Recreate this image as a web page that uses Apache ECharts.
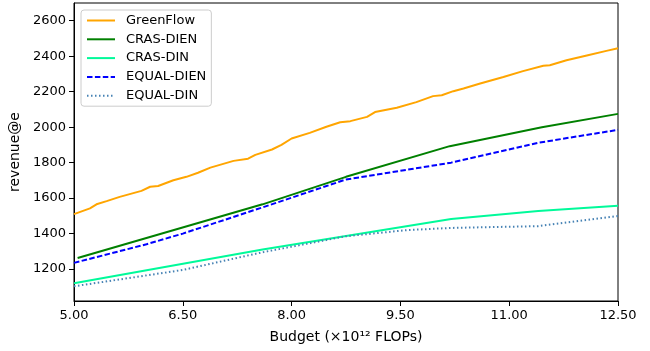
<!DOCTYPE html>
<html>
<head>
<meta charset="utf-8">
<script src="https://cdn.jsdelivr.net/npm/echarts@6/dist/echarts.min.js"></script>
<style>
  html, body { margin: 0; padding: 0; background: #fff; }
  #chart { width: 650px; height: 351px; }
</style>
</head>
<body>
<div id="chart"></div>
<script>
// budget (x1e12 FLOPs) and revenue@e
const greenflowBudget = [5.00, 5.22, 5.31, 5.45, 5.63, 5.93, 6.05, 6.16, 6.37, 6.55, 6.71, 6.88, 7.20, 7.40, 7.50, 7.73, 7.86, 8.00, 8.25, 8.48, 8.67, 8.81, 9.04, 9.15, 9.45, 9.72, 9.95, 10.07, 10.23, 10.37, 10.60, 10.92, 11.19, 11.47, 11.56, 11.79, 12.07, 12.34, 12.50];
const greenflowRevenue = [1510, 1542, 1565, 1583, 1607, 1641, 1664, 1668, 1701, 1720, 1743, 1772, 1810, 1822, 1844, 1874, 1900, 1936, 1968, 2002, 2028, 2034, 2058, 2085, 2109, 2141, 2175, 2180, 2203, 2218, 2246, 2283, 2316, 2346, 2349, 2377, 2404, 2430, 2445];

const crasDienBudget = [5.05, 7.60, 8.75, 10.18, 11.45, 12.50];
const crasDienRevenue = [1262, 1565, 1720, 1893, 2000, 2075];

const crasDinBudget = [5.00, 7.60, 10.20, 11.40, 12.50];
const crasDinRevenue = [1120, 1310, 1482, 1528, 1557];

const equalDienBudget = [5.00, 6.00, 6.50, 7.60, 8.75, 10.20, 11.40, 12.50];
const equalDienRevenue = [1235, 1340, 1400, 1548, 1705, 1800, 1912, 1985];

const equalDinBudget = [5.00, 6.50, 7.60, 8.75, 9.60, 10.20, 11.40, 12.50];
const equalDinRevenue = [1103, 1195, 1295, 1385, 1420, 1432, 1442, 1499];

const yTicks = [1200, 1400, 1600, 1800, 2000, 2200, 2400, 2600];

function pairs(xs, ys) {
  return xs.map((x, i) => [x, ys[i]]);
}

let myChart = echarts.init(document.getElementById('chart'));
const font = 'DejaVu Sans';

let option = {
  animation: false,
  textStyle: { fontFamily: font },
  grid: {
    left: 74,
    right: 32,
    top: 3,
    bottom: 50,
    show: true,
    borderColor: '#000',
    borderWidth: 1
  },
  legend: {
    orient: 'vertical',
    left: 81,
    top: 10,
    padding: [4, 5, 4, 5],
    itemWidth: 28,
    itemHeight: 14,
    itemGap: 5.8,
    itemStyle: { opacity: 0 }, // 只要线，不要圆点
    backgroundColor: 'rgba(255,255,255,0.8)',
    borderColor: '#ccc',
    borderWidth: 1,
    borderRadius: 3,
    textStyle: { fontFamily: font, fontSize: 13, color: '#000', padding: [0, 0, 0, 6] },
    data: ['GreenFlow', 'CRAS-DIEN', 'CRAS-DIN', 'EQUAL-DIEN', 'EQUAL-DIN']
  },
  xAxis: {
    type: 'value',
    min: 5,
    max: 12.5,
    interval: 1.5,
    name: 'Budget (×10¹² FLOPs)',
    nameLocation: 'middle',
    nameGap: 29,
    nameTextStyle: { fontFamily: font, fontSize: 14, color: '#000' },
    axisLine: { lineStyle: { color: '#000', width: 1 } },
    axisTick: { inside: false, length: 5, lineStyle: { color: '#000' } },
    axisLabel: {
      fontFamily: font, fontSize: 13, color: '#000', margin: 8,
      formatter: v => v.toFixed(2)
    },
    splitLine: { show: false }
  },
  yAxis: {
    type: 'value',
    min: 1020,
    max: 2700,
    name: 'revenue@e',
    nameLocation: 'middle',
    nameGap: 47,
    nameRotate: 90,
    nameTextStyle: { fontFamily: font, fontSize: 14, color: '#000' },
    axisLine: { show: true, lineStyle: { color: '#000', width: 1 } },
    axisTick: { show: true, inside: false, length: 5, lineStyle: { color: '#000' }, customValues: yTicks },
    axisLabel: {
      fontFamily: font, fontSize: 13, color: '#000', margin: 8, customValues: yTicks,
      formatter: v => String(v)
    },
    splitLine: { show: false }
  },
  series: [
    {
      name: 'GreenFlow',
      type: 'line',
      symbol: 'none',
      color: '#FFA500',
      lineStyle: { width: 2 },
      data: pairs(greenflowBudget, greenflowRevenue)
    },
    {
      name: 'CRAS-DIEN',
      type: 'line',
      symbol: 'none',
      color: '#008000',
      lineStyle: { width: 2 },
      data: pairs(crasDienBudget, crasDienRevenue)
    },
    {
      name: 'CRAS-DIN',
      type: 'line',
      symbol: 'none',
      color: '#00FA9A',
      lineStyle: { width: 2 },
      data: pairs(crasDinBudget, crasDinRevenue)
    },
    {
      name: 'EQUAL-DIEN',
      type: 'line',
      symbol: 'none',
      color: '#0000FF',
      lineStyle: { width: 2, type: [5.5, 2.4] },
      data: pairs(equalDienBudget, equalDienRevenue)
    },
    {
      name: 'EQUAL-DIN',
      type: 'line',
      symbol: 'none',
      color: '#4682B4',
      lineStyle: { width: 2, type: [1.5, 2.5] },
      data: pairs(equalDinBudget, equalDinRevenue)
    }
  ]
};
myChart.setOption(option);
</script>
</body>
</html>
